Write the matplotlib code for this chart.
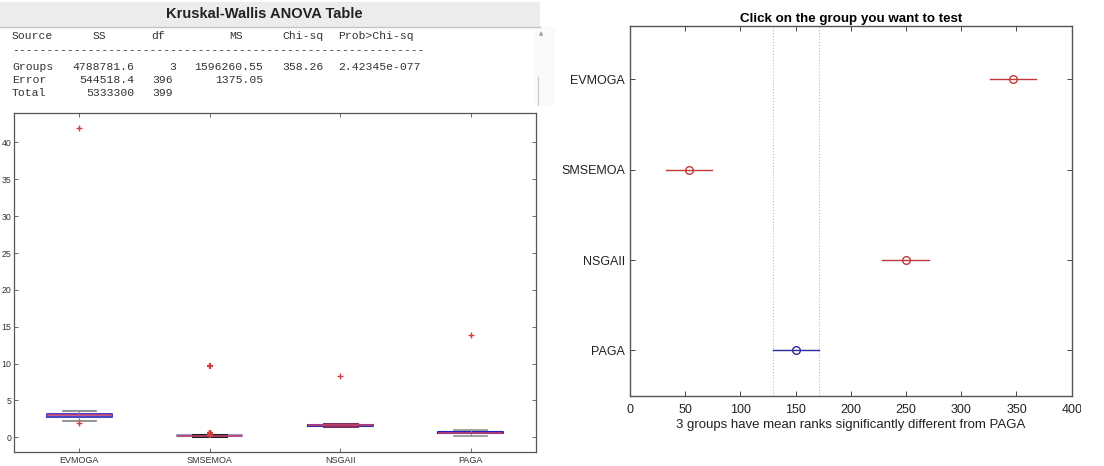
import matplotlib.pyplot as plt
from matplotlib.patches import Rectangle

# ---- data -------------------------------------------------------------
groups = ['EVMOGA', 'SMSEMOA', 'NSGAII', 'PAGA']

# ANOVA table (as printed)
tbl_header = ['Source', 'SS', 'df', 'MS', 'Chi-sq', 'Prob>Chi-sq']
tbl_groups = ['Groups', '4788781.6', '3', '1596260.55', '358.26', '2.42345e-077']
tbl_error = ['Error', '544518.4', '396', '1375.05', '', '']
tbl_total = ['Total', '5333300', '399', '', '', '']

# box plot stats
box_med = [3.0, 0.2, 1.63, 0.6]
box_q1 = [2.8, 0.15, 1.57, 0.52]
box_q3 = [3.15, 0.25, 1.69, 0.68]
whis_lo = [2.2, 0.13, 1.47, 0.2]
whis_hi = [3.5, 0.27, 1.78, 1.04]
fliers = [[41.9, 1.95],
          [9.7, 0.3, 0.38, 0.45, 0.52, 0.6],
          [8.3],
          [13.9]]

# multiple comparison of mean ranks
mean_rank = [347.0, 53.5, 249.5, 150.2]
ci_half = [21.0, 21.0, 21.0, 21.0]
ref_group = 3  # PAGA

W, H = 1104, 466
fig = plt.figure(figsize=(W / 100, H / 100), dpi=100)


def fx(px):
    return px / W


def fy(py):
    return 1 - py / H


# ---- table panel ------------------------------------------------------
tax = fig.add_axes([0, 0, 1, 1])
tax.set_xlim(0, W)
tax.set_ylim(H, 0)
tax.axis('off')
tax.add_patch(Rectangle((0, 2), 540, 25, facecolor='#ececec', edgecolor='none'))
tax.plot([0, 540], [27, 27], color='#c4c4c4', lw=1)
tax.add_patch(Rectangle((535, 27), 20, 78, facecolor='#fafafa', edgecolor='none'))
tax.plot([538, 538], [77, 105], color='#d0d0d0', lw=1)
tax.text(541, 34, '\u25b2', fontsize=4, color='#999999', ha='center', va='center')
tax.text(264, 14, 'Kruskal-Wallis ANOVA Table', fontsize=10.5, fontweight='bold',
         family='Liberation Sans', ha='center', va='center', color='#222222')

mono = dict(family='Liberation Mono', fontsize=8.2, color='#333333', va='center')
# column anchors (x px, alignment) for header and body
hdr_pos = [(12, 'left'), (99, 'center'), (151, 'left'), (236, 'center'),
           (282, 'left'), (338, 'left')]
body_pos = [(12, 'left'), (134, 'right'), (176, 'right'), (263, 'right'),
            (282, 'left'), (338, 'left')]
for txt, (x, ha) in zip(tbl_header, hdr_pos):
    tax.text(x, 36, txt, ha=ha, **mono)
tax.text(12, 50, '-' * 60, ha='left', **mono)
for row, y in zip([tbl_groups, tbl_error, tbl_total], [67, 80, 93]):
    for j, (txt, (x, ha)) in enumerate(zip(row, body_pos)):
        if j == 2 and txt != '3':
            tax.text(152, y, txt, ha='left', **mono)
        else:
            tax.text(x, y, txt, ha=ha, **mono)

# ---- box plot ---------------------------------------------------------
bx = fig.add_axes([fx(14), fy(452), fx(536 - 14), (452 - 113) / H])
stats = []
for i in range(len(groups)):
    stats.append(dict(med=box_med[i], q1=box_q1[i], q3=box_q3[i],
                      whislo=whis_lo[i], whishi=whis_hi[i], fliers=fliers[i]))
art = bx.bxp(stats, positions=range(1, 5), widths=0.5, showfliers=True,
             boxprops=dict(color='#3a3ac8', lw=1.5),
             medianprops=dict(color='#c04070', lw=1.2),
             whiskerprops=dict(color='#888888', lw=0.8, ls='--'),
             capprops=dict(color='#888888', lw=1.2),
             flierprops=dict(marker='+', markeredgecolor='#d04040',
                             markersize=5, lw=0, markeredgewidth=1.0))
box_cols = ['#4848c8', '#9a9ac4', '#3030b0', '#2020c0']
cap_cols = ['#808080', '#202020', '#803060', '#909090']
for i in range(4):
    art['boxes'][i].set_color(box_cols[i])
    art['fliers'][i].set_markeredgecolor('#d04040')
    art['fliers'][i].set_zorder(5)
    for c in art['caps'][2 * i:2 * i + 2]:
        c.set_color(cap_cols[i])
        if i in (1, 2):
            c.set_linewidth(2.2)
art['fliers'][1].set_markeredgewidth(1.6)

bx.set_xlim(0.5, 4.5)
bx.set_ylim(-2, 44)
bx.set_yticks(range(0, 45, 5))
bx.set_xticks(range(1, 5))
bx.set_xticklabels(groups)
bx.tick_params(direction='in', length=3, top=True, right=True, labelsize=6.3,
               colors='#555555', labelcolor='#333333', width=0.6, pad=2)
bx.tick_params(axis='x', labelsize=6.5, pad=3)
for s in bx.spines.values():
    s.set_color('#555555')
    s.set_linewidth(0.9)
for lab in bx.get_xticklabels() + bx.get_yticklabels():
    lab.set_family('Liberation Sans')

# ---- multiple comparison plot ----------------------------------------
mx = fig.add_axes([fx(630), fy(395.7), fx(1071.7 - 630), (395.7 - 25.7) / H])
ypos = [4, 3, 2, 1]
lo_ref = mean_rank[ref_group] - ci_half[ref_group]
hi_ref = mean_rank[ref_group] + ci_half[ref_group]
mx.axvline(lo_ref, color='#bbbbbb', ls=':', lw=0.8)
mx.axvline(hi_ref, color='#bbbbbb', ls=':', lw=0.8)
for i in range(4):
    col = '#2a2aa0' if i == ref_group else '#c03838'
    mx.plot([mean_rank[i] - ci_half[i], mean_rank[i] + ci_half[i]], [ypos[i]] * 2,
            color=col, lw=1)
    mx.plot(mean_rank[i], ypos[i], marker='o', mfc='none', mec=col, ms=5.5, mew=1)

mx.set_xlim(0, 400)
mx.set_ylim(0.5, 4.59)
mx.set_xticks(range(0, 401, 50))
mx.set_yticks(ypos)
mx.set_yticklabels(groups)
mx.tick_params(direction='in', length=3.5, top=True, right=True, labelsize=9,
               colors='#444444', labelcolor='#222222', width=0.7)
mx.tick_params(axis='x', pad=6)
for s in mx.spines.values():
    s.set_color('#555555')
    s.set_linewidth(1)
for lab in mx.get_xticklabels() + mx.get_yticklabels():
    lab.set_family('Liberation Sans')
mx.set_title('Click on the group you want to test', fontsize=9.6, fontweight='bold',
             family='Liberation Sans', pad=3)
mx.set_xlabel('3 groups have mean ranks significantly different from PAGA',
              fontsize=9.5, family='Liberation Sans', labelpad=2, color='#222222')

# the screenshot is cropped just past the right axis, cutting the last tick label
fig.add_artist(Rectangle((fx(1081), fy(420)), fx(W - 1081), 24 / H,
                         transform=fig.transFigure, facecolor='white',
                         edgecolor='none', zorder=10))

fig.savefig('out.png', dpi=100)
